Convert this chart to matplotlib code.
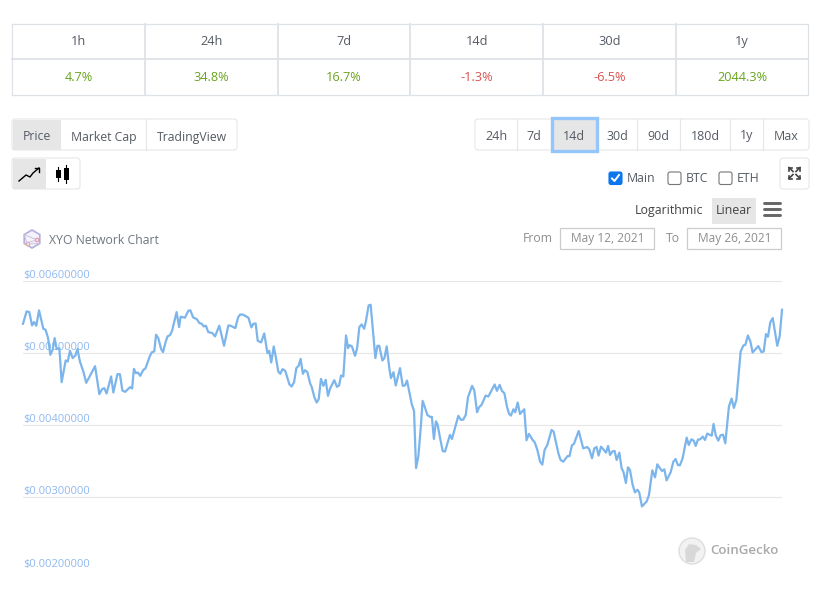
import matplotlib
matplotlib.use("Agg")
import matplotlib.pyplot as plt
import numpy as np
from matplotlib.patches import Circle, FancyBboxPatch, Polygon, Rectangle

plt.rcParams['font.family'] = ['Open Sans', 'DejaVu Sans']

# values
periods = ['1h', '24h', '7d', '14d', '30d', '1y']
changes = [4.7, 34.8, 16.7, -1.3, -6.5, 2044.3]
chart_tabs = ['Price', 'Market Cap', 'TradingView']
range_tabs = ['24h', '7d', '14d', '30d', '90d', '180d', '1y', 'Max']
compare = ['Main', 'BTC', 'ETH']
date_from = 'May 12, 2021'
date_to = 'May 26, 2021'
y_ticks = [0.002, 0.003, 0.004, 0.005, 0.006]

# hours since May 12 and price in 1e-5 USD
hours = [
    0, 1.6, 2.8, 4.0, 4.9, 5.9, 7.1, 9.0, 10.0, 11.1, 12.1, 13.1, 14.0, 14.9, 16.1, 17.1, 18.9, 19.8, 20.8, 22.0,
    23.2, 24.1, 25.2, 26.7, 28.0, 31.9, 33.8, 35.0, 36.0, 37.0, 39.0, 40.0, 41.8, 42.9, 44.0, 45.2, 47.4, 48.3,
    49.1, 50.0, 50.9, 51.9, 53.3, 54.2, 56.2, 57.1, 58.1, 58.9, 59.9, 61.1, 62.0, 63.2, 64.0, 65.1, 66.0, 68.0,
    69.1, 69.8, 71.7, 73.2, 74.1, 75.3, 76.9, 78.1, 79.1, 80.0, 81.0, 82.0, 83.8, 85.0, 86.9, 89.0, 90.9, 91.9,
    94.0, 95.2, 96.2, 97.5, 99.8, 101.1, 102.0, 103.0, 103.9, 105.4, 106.8, 108.2, 109.0,
    109.9, 111.0, 112.0, 113.0, 113.9, 114.9, 116.1, 117.9, 118.9, 120.0, 121.0, 122.0, 122.9, 123.9, 124.8,
    125.9, 127.1, 127.8, 129.0, 130.0, 130.9, 131.9, 133.0, 134.0, 135.0, 136.0, 137.8, 139.0, 139.9, 140.8,
    141.8, 143.0, 143.9, 144.6, 145.6, 147.0, 147.9, 148.9, 149.9, 151.0, 151.8, 153.0, 153.9, 155.1, 156.0,
    156.9, 157.7, 159.1, 160.0, 161.0, 162.2, 162.9, 164.0, 165.0, 166.9, 168.1, 169.1, 170.0, 172.1, 173.1,
    174.0, 175.0, 176.0, 176.9, 177.9, 179.0, 180.2, 181.0, 181.9, 182.8, 183.5, 184.8, 185.8, 186.8, 189.0,
    189.9, 192.7, 193.9, 194.9, 196.0, 197.0, 198.8, 199.8, 201.0, 201.9, 203.0, 204.8, 206.0, 208.8, 209.8,
    211.0, 212.0, 213.1, 214.3, 215.2, 216.0, 217.1, 217.9, 219.0, 220.0, 221.9, 222.9, 224.0,
    225.6, 226.6, 227.7, 228.9, 229.9, 230.9, 232.1, 234.0, 234.9, 237.0, 238.0, 239.2, 241.1, 241.9, 243.0,
    243.9, 246.0, 248.0, 249.8, 250.7, 251.9, 252.9, 253.9, 254.8, 255.9, 258.1, 259.0, 259.9, 261.0, 261.9,
    262.8, 264.0, 265.0, 265.8, 266.9, 267.8, 268.7, 269.9, 270.9, 272.0, 272.8, 274.0, 276.1, 277.1, 278.6,
    279.8, 280.8, 282.0, 282.9, 283.9, 284.9, 286.7, 287.9, 288.9, 289.9, 290.8, 292.0, 293.8, 294.7, 295.9,
    296.9, 297.8, 298.8, 299.8, 300.9, 301.9, 302.9, 304.9, 305.7, 306.7, 307.8, 308.8, 309.9, 310.9, 312.5,
    313.7, 314.7, 315.8, 317.7, 318.9, 319.8, 320.9, 322.0, 323.0, 325.5, 326.9, 327.9, 328.9, 329.8, 330.8,
    331.9, 333.9, 335.0, 336.0,
]
price_e5 = [
    540.7, 557.9, 556.9, 538.4, 543.1, 538.0, 559.3, 533.8, 532.4, 520.8, 497.7, 504.6, 520.8, 505.6, 506.9,
    459.7, 489.8, 488.4, 503.2, 493.1, 496.8, 505.6, 488.4, 474.5, 458.8, 481.9, 443.1, 450.0, 451.4, 444.0,
    467.6, 445.4, 470.8, 470.8, 448.1, 446.3, 452.8, 450.9, 478.2, 472.2, 473.1, 468.5, 476.9, 478.7, 496.3,
    501.4, 502.3, 525.5, 520.8, 506.0, 501.4, 516.2, 523.2, 525.0, 531.0, 556.9, 536.1, 550.5, 549.1, 558.8,
    559.3, 549.5, 547.2, 541.7, 540.7, 537.0, 538.0, 529.2, 527.8, 523.2, 538.0, 510.2, 538.4, 538.0, 534.7,
    549.5, 553.7, 553.2, 549.1, 535.7, 540.7, 541.2, 517.1, 514.8, 527.3, 500.0, 503.2,
    487.0, 509.3, 493.1, 474.5, 471.3, 477.8, 475.5, 456.9, 453.7, 459.7, 479.2, 482.4, 492.1, 471.3, 476.4,
    473.6, 457.9, 453.2, 438.9, 431.5, 436.1, 464.3, 454.6, 463.0, 440.7, 451.4, 462.5, 453.2, 455.1, 469.0,
    467.6, 524.5, 506.9, 511.1, 509.3, 496.3, 506.9, 536.1, 539.8, 533.8, 544.0, 566.2, 567.1, 525.5, 493.1,
    510.2, 510.2, 489.8, 493.1, 509.3, 478.2, 465.3, 473.6, 455.1, 479.2, 454.6, 455.1, 462.0, 429.2, 419.9,
    340.7, 356.5, 393.5, 433.8, 425.0, 414.3, 411.6, 411.6, 381.0, 405.5, 401.4, 379.6, 364.3, 363.4, 386.6,
    381.0, 413.0, 407.4, 407.9, 414.3, 438.9, 454.6, 448.1, 418.0, 425.0, 428.2, 441.2, 439.8, 456.5, 447.7,
    456.0, 447.7, 444.4, 425.0, 415.7, 413.4, 422.2, 418.0, 431.5, 415.7, 422.2, 379.2, 388.0,
    379.6, 375.9, 365.7, 349.5, 345.4, 365.7, 372.7, 393.5, 391.2, 361.1, 351.8, 349.5, 357.4, 356.9, 372.2,
    374.1, 392.1, 368.0, 369.8, 366.6, 354.2, 368.0, 369.8, 357.9, 370.4, 362.0, 371.3, 358.8, 363.9, 364.3,
    351.8, 362.0, 340.3, 335.6, 319.9, 341.7, 338.0, 317.1, 306.9, 310.6, 306.9, 287.4, 294.4, 303.2, 337.5,
    327.7, 345.8, 340.3, 336.6, 338.9, 323.6, 334.7, 349.5, 353.2, 344.9, 344.4, 354.2, 382.9, 372.7, 380.5,
    378.7, 371.3, 380.1, 380.5, 384.3, 379.6, 388.4, 385.6, 401.8, 385.6, 378.7, 386.1, 387.0, 375.0, 425.9,
    437.0, 424.0, 435.1, 502.3, 510.6, 511.6, 524.5, 516.2, 500.9, 509.7, 501.4, 502.3, 526.4, 522.7, 542.6,
    548.6, 510.2, 524.1, 560.2,
]

W, H = 817, 590
fig = plt.figure(figsize=(W / 100, H / 100), dpi=100)

# page furniture is laid out in screen pixels
ui = fig.add_axes([0, 0, 1, 1])
ui.set_xlim(0, W)
ui.set_ylim(H, 0)
ui.axis('off')

TEXT = '#555b63'
BORDER = '#e6e6e6'
ACTIVE = '#e6e6e6'
FS = 9.0


def label(x, y, s, color=TEXT, size=FS, ha='center', **kw):
    ui.text(x, y, s, color=color, fontsize=size, ha=ha, va='center', **kw)


def group(x0, y0, x1, y1, edge=BORDER, face='white', r=3, lw=0.8, z=1):
    p = FancyBboxPatch((x0 + r, y0 + r), x1 - x0 - 2 * r, y1 - y0 - 2 * r,
                       boxstyle=f'round,pad={r},rounding_size={r}',
                       fc=face, ec=edge, lw=lw, zorder=z)
    ui.add_patch(p)


# ======= change table ======= #
cols = np.linspace(12.5, 808.5, len(periods) + 1)
for i, (p, c) in enumerate(zip(periods, changes)):
    mid = (cols[i] + cols[i + 1]) / 2
    label(mid, 41.5, p, size=9.2)
    col = '#6aa51f' if c > 0 else '#d9534f'
    label(mid, 77.5, f'{c}%', color=col, size=9.2)
for xc in cols:
    lw = 0.9 if xc in (cols[0], cols[-1]) else 1.3
    ui.plot([xc, xc], [23.5, 94.5], color='#dee2e6', lw=lw)
for yc, lw in ((23.5, 0.9), (59, 1.3), (94.5, 0.9)):
    ui.plot([cols[0], cols[-1]], [yc, yc], color='#dee2e6', lw=lw)

# ======= chart type tabs ======= #
group(12, 119, 237, 150)
ui.add_patch(Rectangle((13, 119.5), 48, 30, fc=ACTIVE, ec='none', zorder=2))
tab_edges = [12, 61, 146, 237]
for i, t in enumerate(chart_tabs):
    label((tab_edges[i] + tab_edges[i + 1]) / 2, 137, t, size=8.8, zorder=3)
ui.plot([146.5, 146.5], [119, 150], color=BORDER, lw=0.8, zorder=3)

# ======= range tabs ======= #
group(475, 119, 809, 150)
range_edges = [475, 517.5, 551, 597.5, 637.5, 680, 730, 763.5, 809]
for xc in range_edges[1:-1]:
    ui.plot([xc, xc], [119, 150], color=BORDER, lw=0.8, zorder=2)
ui.add_patch(Rectangle((552, 117.5), 45, 33.5, fc=ACTIVE, ec='#94c5fb', lw=2.4, zorder=3))
for i, t in enumerate(range_tabs):
    label((range_edges[i] + range_edges[i + 1]) / 2, 136, t, size=9, zorder=4)

# ======= line / candle toggle ======= #
group(12, 158, 80, 189)
ui.add_patch(Rectangle((13, 158.5), 33, 30, fc=ACTIVE, ec='none', zorder=2))
ui.plot([19, 26, 30, 33, 39], [181, 175, 177, 173, 168], color='black', lw=1.0, zorder=3)
ui.plot([35, 39.5, 39.5], [168, 168, 172], color='black', lw=1.0, zorder=3)
for xc, y0, y1, b0, b1 in ((58.5, 167, 181, 170, 178), (66.5, 165, 183, 168, 180)):
    ui.plot([xc, xc], [y0, y1], color='black', lw=0.8, zorder=3)
    ui.add_patch(Rectangle((xc - 2.5, b0), 5, b1 - b0, fc='black', ec='none', zorder=3))

# ======= compare checkboxes ======= #
box_x = [609, 668, 719]
for i, (bx, name) in enumerate(zip(box_x, compare)):
    on = i == 0
    group(bx, 172, bx + 13, 184.5, edge='#0b76ef' if on else '#767676',
          face='#0b76ef' if on else 'white', r=2, lw=0.8)
    if on:
        ui.plot([bx + 3, bx + 5.5, bx + 10], [178.5, 181, 175], color='white', lw=1.4, zorder=3)
    label(bx + 18, 179, name, ha='left', size=8.8)

# expand button
group(780, 158, 809, 189)
for sx, sy in ((-1, -1), (1, -1), (-1, 1), (1, 1)):
    cx, cy = 794.5, 173
    ui.plot([cx + sx * 1.5, cx + sx * 5.5], [cy + sy * 1.5, cy + sy * 5.5], color='#444', lw=1.2, zorder=3)
    ui.plot([cx + sx * 2.5, cx + sx * 5.5, cx + sx * 5.5], [cy + sy * 5.5, cy + sy * 5.5, cy + sy * 2.5],
            color='#444', lw=1.2, zorder=3)

# ======= scale selector ======= #
label(669, 210.5, 'Logarithmic', size=8.9, color='#444')
ui.add_patch(Rectangle((712, 198), 44, 26, fc=ACTIVE, ec='none'))
label(734, 210.5, 'Linear', size=8.9, color='#444', zorder=3)
for yc in (203, 209, 215):
    ui.plot([764.5, 780], [yc, yc], color='#666666', lw=2.1, solid_capstyle='round')

# ======= date range ======= #
label(523, 239, 'From', ha='left', color='#8e8e8e', size=8.8)
label(666, 239, 'To', ha='left', color='#8e8e8e', size=8.8)
for x0, x1, s in ((560.5, 654.5, date_from), (687.5, 781.5, date_to)):
    ui.add_patch(Rectangle((x0, 227.5), x1 - x0, 21, fc='white', ec='#cccccc', lw=0.9))
    label((x0 + x1) / 2, 238.5, s, color='#8e8e8e', size=8.6)

# ======= title and logos ======= #
ang = np.radians(np.arange(30, 390, 60))
hx = np.column_stack([32 + 9 * np.cos(ang), 239 + 9 * np.sin(ang)])
ui.add_patch(Polygon(hx, fc='#f4f3fb', ec='#b3b0de', lw=1.2))
ui.plot([hx[0][0], 27, hx[3][0], 37, hx[2][0]], [hx[0][1], 244, hx[3][1], 240, hx[2][1]], color='#cbb9d8', lw=0.6)
ui.add_patch(Circle((37, 240), 1.8, fc='white', ec='#e08aa0', lw=0.7))
ui.add_patch(Circle((28, 244), 1.8, fc='white', ec='#e9a583', lw=0.7))
label(49, 240, 'XYO Network Chart', ha='left', color='#6f7680', size=8.8)

ui.add_patch(Circle((692, 551), 13, fc='#f2f2f2', ec='#dedede', lw=1.0, zorder=3))
ui.add_patch(Polygon([[686, 562], [685, 550], [689, 544], [696, 545], [701, 549], [696, 553], [694, 562]],
                     fc='#d8d8d8', ec='none', zorder=3))
label(710, 550, 'CoinGecko', ha='left', color='#a9a9a9', size=9.6, fontweight='semibold', zorder=3)

# ======= price chart ======= #
ax = fig.add_axes([23 / W, 1 - 569.5 / H, 759 / W, (569.5 - 281) / H])
ax.patch.set_alpha(0)
ax.plot(hours, np.array(price_e5) * 1e-5, color='#7cb5ec', lw=1.6, solid_joinstyle='round', clip_on=False, zorder=3)
ax.set_xlim(0, 336)
ax.set_ylim(0.002, 0.006)
ax.set_xticks([])
ax.set_yticks(y_ticks, [f'${v:.8f}' for v in y_ticks])
ax.grid(axis='y', color=BORDER, lw=0.8)
ax.tick_params(axis='y', length=0, pad=0, labelsize=8.0, labelcolor='#8fb9ee')
plt.setp(ax.get_yticklabels(), ha='left', va='bottom')
for s in ax.spines.values():
    s.set_visible(False)

fig.savefig('out.png', dpi=100)
